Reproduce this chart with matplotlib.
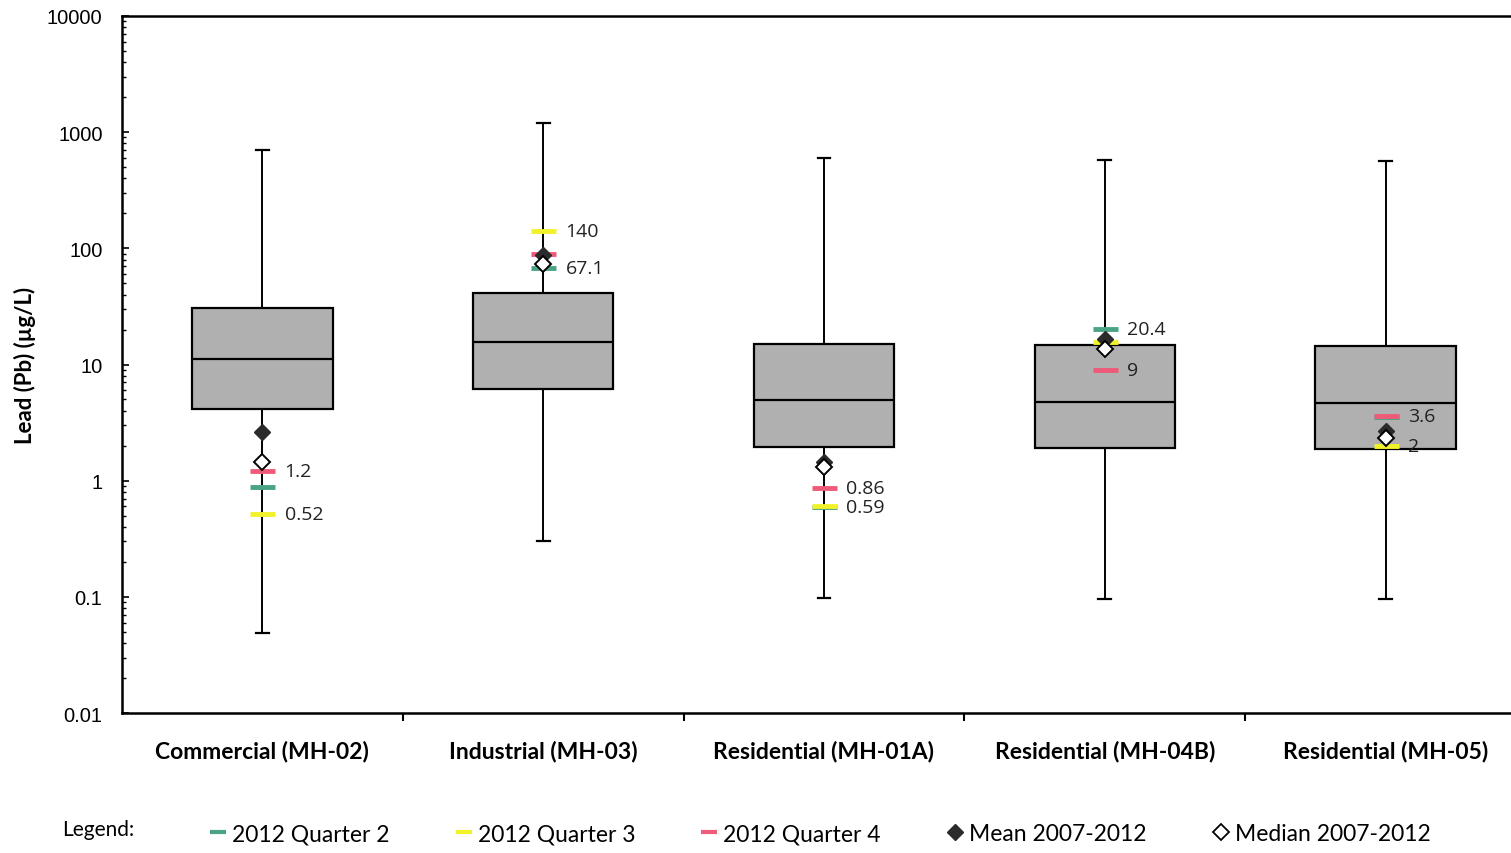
import numpy as np
import matplotlib
matplotlib.use("Agg")
import matplotlib.pyplot as plt
from matplotlib.lines import Line2D

# categories and box statistics
sites = ["Commercial (MH-02)", "Industrial (MH-03)", "Residential (MH-01A)",
         "Residential (MH-04B)", "Residential (MH-05)"]
whisk_lo = [0.049, 0.30, 0.097, 0.096, 0.095]
box_lo = [4.1, 6.1, 1.94, 1.91, 1.88]
box_med = [11.2, 15.5, 4.9, 4.8, 4.7]
box_hi = [30.5, 41.0, 14.9, 14.7, 14.5]
whisk_hi = [700, 1200, 594, 574, 567]

# 2012 quarterly results and 2007-2012 summary
q2 = [0.88, 67.1, 0.59, 20.4, 3.5]
q3 = [0.52, 140, 0.60, 15.5, 2.0]
q4 = [1.2, 90, 0.86, 9.0, 3.6]
mean_07_12 = [2.6, 88, 1.45, 16.5, 2.7]
median_07_12 = [1.45, 74, 1.3, 13.5, 2.35]

c_q2 = "#4aa383"
c_q3 = "#f2f22a"
c_q4 = "#ef5a78"

plt.rcParams['font.family'] = ['Lato', 'DejaVu Sans']

fig = plt.figure(figsize=(15.11, 8.54), dpi=100)
ax = fig.add_axes([122/1511, 1-714/854, 1404/1511, (714-17)/854])

x = np.arange(len(sites))
stats = []
for i in range(len(sites)):
    stats.append(dict(whislo=whisk_lo[i], q1=box_lo[i], med=box_med[i],
                      q3=box_hi[i], whishi=whisk_hi[i], fliers=[]))
ax.bxp(stats, positions=x, widths=0.5, patch_artist=True, showfliers=False,
       capwidths=0.045,
       boxprops=dict(facecolor="#b0b0b0", edgecolor="black", linewidth=1.6),
       medianprops=dict(color="black", linewidth=1.6),
       whiskerprops=dict(color="black", linewidth=1.4),
       capprops=dict(color="black", linewidth=1.6))

mk = dict(ls="none", marker="_", ms=18, mew=3.5, zorder=4)
ax.plot(x, q2, color=c_q2, **mk)
ax.plot(x, q3, color=c_q3, **mk)
ax.plot(x, q4, color=c_q4, **mk)
ax.plot(x, mean_07_12, ls="none", marker="D", ms=8.5, mfc="#2b2b2b", mec="#2b2b2b", zorder=5)
ax.plot(x, median_07_12, ls="none", marker="D", ms=8.5, mfc="white", mec="black", mew=1.4, zorder=6)

# label the highest and lowest 2012 result of each site
for i in range(len(sites)):
    vals = [q2[i], q3[i], q4[i]]
    for v in (max(vals), min(vals)):
        ax.annotate(f"{v:g}", (x[i], v), xytext=(16, 0), textcoords="offset points",
                    va="center", ha="left", fontsize=14, color="#222222",
                    family=["Open Sans", "DejaVu Sans"])

ax.set_yscale("log")
ax.set_ylim(0.01, 10000)
ax.set_xlim(-0.5, 4.5)
ax.set_yticks([0.01, 0.1, 1, 10, 100, 1000, 10000])
ax.set_yticklabels(["0.01", "0.1", "1", "10", "100", "1000", "10000"],
                   family=["Liberation Sans", "DejaVu Sans"], fontsize=14.5)
ax.tick_params(axis="y", which="major", direction="in", length=5, width=1.2, pad=14)
ax.tick_params(axis="y", which="minor", direction="in", length=3, width=1.0)

ax.set_xticks(x)
ax.set_xticklabels(sites, fontsize=16.5, fontweight="bold")
ax.tick_params(axis="x", which="major", length=0, pad=19)
ax.set_xticks(x[:-1] + 0.5, minor=True)
ax.tick_params(axis="x", which="minor", direction="out", length=6, width=1.5)

for s in ax.spines.values():
    s.set_linewidth(1.8)

fig.text(25/1511, 1-365/854, "Lead (Pb) (µg/L)", rotation=90, fontsize=16,
         fontweight="bold", ha="center", va="center")

# legend row
fig.text(62/1511, 1-830/854, "Legend:", fontsize=15, va="center", ha="left")
handles = [
    Line2D([], [], ls="none", marker="_", ms=12, mew=3, color=c_q2),
    Line2D([], [], ls="none", marker="_", ms=12, mew=3, color=c_q3),
    Line2D([], [], ls="none", marker="_", ms=12, mew=3, color=c_q4),
    Line2D([], [], ls="none", marker="D", ms=8, mfc="#2b2b2b", mec="#2b2b2b"),
    Line2D([], [], ls="none", marker="D", ms=8, mfc="white", mec="black", mew=1.3),
]
names = ["2012 Quarter 2", "2012 Quarter 3", "2012 Quarter 4",
         "Mean 2007-2012", "Median 2007-2012"]
fig.legend(handles, names, loc="center left", bbox_to_anchor=(210/1511, 1-835/854),
           ncol=5, frameon=False, fontsize=16.5, handlelength=0.7, handletextpad=0.25,
           columnspacing=2.9, borderaxespad=0, borderpad=0)

fig.savefig("out.png", dpi=100)
